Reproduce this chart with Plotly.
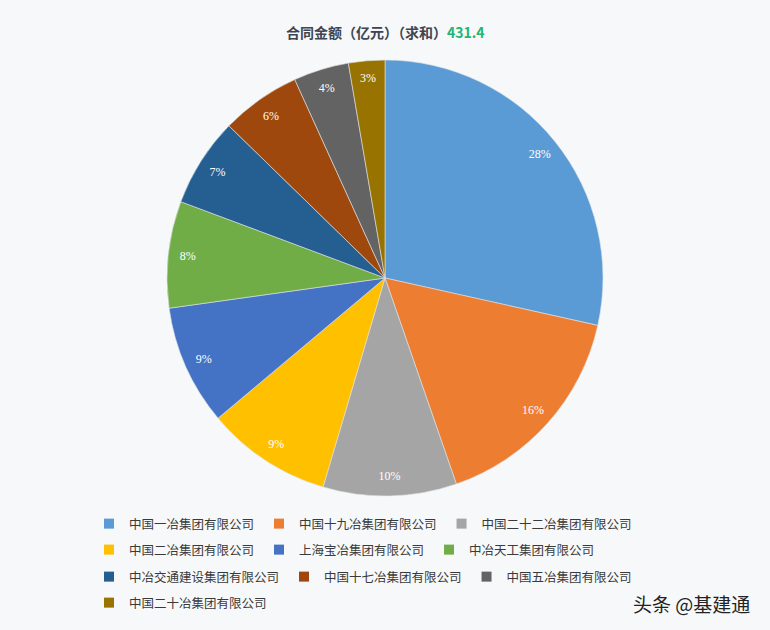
import plotly.graph_objects as go

companies = [
    "中国一冶集团有限公司",
    "中国十九冶集团有限公司",
    "中国二十二冶集团有限公司",
    "中国二冶集团有限公司",
    "上海宝冶集团有限公司",
    "中冶天工集团有限公司",
    "中冶交通建设集团有限公司",
    "中国十七冶集团有限公司",
    "中国五冶集团有限公司",
    "中国二十冶集团有限公司",
]
amounts = [122.9, 69.9, 42.7, 40.1, 38.4, 34.1, 28.5, 25.5, 17.7, 11.6]
colors = ["#5B9BD5", "#ED7D31", "#A5A5A5", "#FFC000", "#4472C4",
          "#70AD47", "#255E91", "#9E480E", "#636363", "#997300"]
total_label = "431.4"
legend_rows = [[0, 1, 2], [3, 4, 5], [6, 7, 8], [9]]

BG = "#f6f8f9"
W, H = 770, 630
ml, mr, mt, mb = 40, 40, 40, 130
pw, ph = W - ml - mr, H - mt - mb


def px_x(v):
    return (v - ml) / pw


def px_y(v):
    return (H - mb - v) / ph


pie_domain = dict(x=[px_x(167), px_x(603)], y=[px_y(496), px_y(60)])

fig = go.Figure()
# main pie
fig.add_trace(go.Pie(
    labels=companies, values=amounts, sort=False, direction="clockwise", rotation=0,
    marker=dict(colors=colors, line=dict(color="#dfe3e6", width=0.6)),
    textinfo="none", hoverinfo="label+value+percent", showlegend=False,
    domain=pie_domain,
))
# transparent ring carrying the percentage labels near the rim
fig.add_trace(go.Pie(
    labels=companies, values=amounts, sort=False, direction="clockwise", rotation=0,
    hole=0.82,
    marker=dict(colors=["rgba(0,0,0,0)"] * len(amounts), line=dict(width=0)),
    texttemplate="%{percent:.0%}", textposition="inside", insidetextorientation="horizontal",
    textfont=dict(family="Liberation Serif", size=12, color="white"),
    hoverinfo="skip", showlegend=False, domain=pie_domain,
))

# legend entries (flow layout, one legend per row)
legend_names = ["legend", "legend2", "legend3", "legend4"]
for r, row in enumerate(legend_rows):
    for i in row:
        fig.add_trace(go.Scatter(
            x=[None], y=[None], mode="markers", name=companies[i],
            marker=dict(symbol="square", size=10, color=colors[i]),
            legend=legend_names[r], showlegend=True, hoverinfo="skip",
        ))

row_y = [524, 550, 577, 603]
legend_common = dict(orientation="h", xanchor="left", yanchor="middle",
                     font=dict(family="Noto Sans CJK SC", size=12.5, color="#3a3a3a"),
                     bgcolor="rgba(0,0,0,0)", borderwidth=0, traceorder="normal",
                     itemclick=False, itemdoubleclick=False)

layout_legends = {}
for r, name in enumerate(legend_names):
    layout_legends[name] = dict(legend_common, x=px_x(89), y=px_y(row_y[r]))

fig.update_layout(
    width=W, height=H,
    paper_bgcolor=BG, plot_bgcolor=BG,
    margin=dict(l=ml, r=mr, t=mt, b=mb, autoexpand=False),
    font=dict(family="Noto Sans CJK SC", color="#333"),
    xaxis=dict(visible=False), yaxis=dict(visible=False),
    annotations=[
        dict(text="<b>合同金额（亿元）（求和）<span style='color:#22b573'>" + total_label + "</span></b>",
             xref="paper", yref="paper", x=px_x(385), y=px_y(32),
             xanchor="center", yanchor="middle", showarrow=False,
             font=dict(family="Noto Sans CJK SC", size=14, color="#3d4452")),
        dict(text="头条 @基建通", xref="paper", yref="paper",
             x=px_x(752), y=px_y(603), xanchor="right", yanchor="middle",
             showarrow=False, font=dict(family="Noto Sans CJK SC", size=19, color="#222")),
    ],
    **layout_legends,
)

fig.write_html("out.html", config={"displayModeBar": False},
               post_script="document.body.style.margin='0';document.body.style.background='" + BG + "';")
